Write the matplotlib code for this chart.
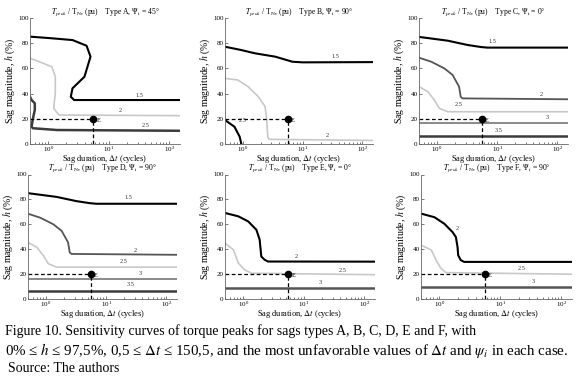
import matplotlib
matplotlib.use("Agg")
import matplotlib.pyplot as plt

plt.rcParams['font.family'] = ['Liberation Serif', 'DejaVu Serif']
plt.rcParams['mathtext.fontset'] = 'stix'

# --- Dados (duração t em ciclos, magnitude h em %) ---
t_min, t_max = 0.5, 150.5
e_t, e_h = 5.6, 20  # ponto E

# Tipo A
a15_t = [0.5, 1.08, 2.52, 4.3, 5.0, 3.97, 2.52, 2.36, 2.68, 150.5]
a15_h = [85.2, 84, 82.5, 78, 69.3, 53.4, 44.2, 37.5, 34.9, 34.9]
a2_t = [0.5, 0.6, 1.15, 1.31, 1.31, 1.23, 1.5, 150.5]
a2_h = [68, 66.7, 61.3, 53.4, 40.2, 28.3, 23, 22.5]
a25_t = [0.5, 0.53, 0.6, 0.6, 0.56, 0.53, 0.56, 1.4, 150.5]
a25_h = [37.5, 35, 32.3, 27, 20.4, 13.7, 12.5, 11.1, 10.5]

# Tipo B
b15_t = [0.5, 0.93, 1.58, 3.48, 6.7, 10, 150.5]
b15_h = [77.2, 74.6, 72, 69.3, 65.3, 64.8, 65]
b2_t = [0.5, 0.82, 1.22, 1.81, 2.35, 2.5, 2.6, 2.75, 150.5]
b2_h = [52.1, 50.8, 45.5, 37.5, 29.6, 19, 5.8, 3.7, 2.8]
b25_t = [0.5, 0.72, 0.88, 0.94]
b25_h = [19, 13.7, 5.8, 0]

# Tipo C (o tipo D dá as mesmas curvas)
c15_t = [0.5, 1.5, 3.2, 5.3, 6.8, 150.5]
c15_h = [85, 82, 78.6, 77, 76.5, 76.5]
c2_t = [0.5, 0.8, 1.32, 1.81, 2.32, 2.47, 2.64, 150.5]
c2_h = [68.5, 65.3, 60, 54.8, 45.5, 37.5, 36.2, 35.5]
c25_t = [0.5, 0.7, 0.9, 1.09, 1.5, 150.5]
c25_h = [45.5, 41.5, 34.9, 28.3, 25.6, 25.6]
c3_t = [0.5, 150.5]
c3_h = [16.4, 16.4]
c35_t = [0.5, 150.5]
c35_h = [6.5, 6.5]

# Tipo E
e2_t = [0.5, 0.83, 1.21, 1.65, 1.87, 1.94, 1.99, 2.26, 2.57, 150.5]
e2_h = [69.1, 66.4, 62.3, 55.6, 47.6, 39.5, 34.1, 31.5, 30.1, 30]
e25_t = [0.5, 0.69, 0.83, 1.06, 1.37, 150.5]
e25_h = [44.9, 39.5, 28.8, 23.4, 20.7, 19.5]
e3_t = [0.5, 150.5]
e3_h = [9.1, 9.1]

# Tipo F
f2_t = [0.5, 0.83, 1.21, 1.65, 1.87, 1.99, 2.04, 2.25, 2.55, 150.5]
f2_h = [68.6, 65.7, 60.4, 53.7, 49.7, 41.7, 35.1, 31.2, 29.8, 29.8]
f25_t = [0.5, 0.74, 0.88, 1.06, 1.28, 150.5]
f25_h = [43.3, 39.3, 31.4, 24.7, 21.2, 19.9]
f3_t = [0.5, 150.5]
f3_h = [9.3, 9.3]

BLACK, LIGHT, MID, DARK, DARKER = 'black', '#c8c8c8', '#808080', '#555555', '#3c3c3c'

# (t, h, cor, espessura, texto, t_texto, h_texto)
paineis = [
    ("A", "45", [30, 18, 180, 144], [
        (a15_t, a15_h, BLACK, 1.5, "1.5", 31.7, 36.7),
        (a2_t, a2_h, LIGHT, 1.2, "2", 15.5, 24.8),
        (a25_t, a25_h, DARKER, 1.8, "2.5", 41, 12.5)]),
    ("B", "90", [225, 18, 373, 144], [
        (b15_t, b15_h, BLACK, 1.5, "1.5", 35.5, 67.2),
        (b2_t, b2_h, LIGHT, 1.2, "2", 25.5, 4.5),
        (b25_t, b25_h, BLACK, 1.5, "2.5", 0.97, 16.9)]),
    ("C", "0", [419, 18, 568, 144], [
        (c15_t, c15_h, BLACK, 1.5, "1.5", 8.2, 79),
        (c2_t, c2_h, DARK, 1.3, "2", 54, 37.5),
        (c25_t, c25_h, LIGHT, 1.2, "2.5", 2.3, 29),
        (c3_t, c3_h, MID, 1.3, "3", 69, 19),
        (c35_t, c35_h, DARKER, 1.8, "3.5", 10.5, 9)]),
    ("D", "90", [28, 174.5, 177, 299], [
        (c15_t, c15_h, BLACK, 1.5, "1.5", 23.3, 79.8),
        (c2_t, c2_h, DARK, 1.3, "2", 30.5, 37.3),
        (c25_t, c25_h, LIGHT, 1.2, "2.5", 19.2, 28.2),
        (c3_t, c3_h, MID, 1.3, "3", 36.5, 18.5),
        (c35_t, c35_h, DARKER, 1.8, "3.5", 25.8, 9.4)]),
    ("E", "0", [225, 174.5, 375, 299], [
        (e2_t, e2_h, BLACK, 1.5, "2", 7.5, 32.3),
        (e25_t, e25_h, LIGHT, 1.2, "2.5", 43.5, 21.2),
        (e3_t, e3_h, DARK, 1.8, "3", 18.7, 11.3)]),
    ("F", "90", [421, 174.5, 572, 299], [
        (f2_t, f2_h, BLACK, 1.5, "2", 1.99, 54.5),
        (f25_t, f25_h, LIGHT, 1.2, "2.5", 22.7, 22.3),
        (f3_t, f3_h, DARK, 1.8, "3", 35, 12.2)]),
]

W, H = 580, 381
fig = plt.figure(figsize=(W / 100, H / 100), dpi=100)

for tipo, psi, (x0, y0, x1, y1), curvas in paineis:
    ax = fig.add_axes([x0 / W, 1 - y1 / H, (x1 - x0) / W, (y1 - y0) / H])
    for t, h, cor, lw, txt, tx, hy in curvas:
        ax.plot(t, h, color=cor, lw=lw, solid_joinstyle='round')
        ax.text(tx, hy, txt, fontsize=4.5, ha='center', va='bottom', color='#333333')
    # ponto E e linhas tracejadas
    ax.plot([t_min, e_t], [e_h, e_h], 'k--', lw=0.9, dashes=(3, 2))
    ax.plot([e_t, e_t], [0, e_h], 'k--', lw=0.9, dashes=(3, 2))
    ax.plot(e_t, e_h, 'ko', ms=4.5)
    ax.text(e_t * 1.13, e_h - 1.5, "E", fontsize=4.5, va='center')

    ax.set_xscale('log')
    ax.set_xlim(t_min, t_max)
    ax.set_ylim(0, 100)
    ax.set_yticks([0, 20, 40, 60, 80, 100])
    ax.set_xticks([1, 10, 100])
    ax.spines['top'].set_visible(False)
    ax.spines['right'].set_visible(False)
    for s in ['left', 'bottom']:
        ax.spines[s].set_linewidth(0.6)
        ax.spines[s].set_color('#666666')
    ax.tick_params(axis='both', which='both', direction='in', labelsize=5,
                   width=0.5, length=2, pad=1.0, colors='#444444', labelcolor='black')
    ax.tick_params(axis='x', which='both', pad=0.5)
    ax.tick_params(axis='x', which='minor', length=1.2)
    ax.set_title(r"$T_{peak}$ / T$_{\rm N}$, (pu)    Type " + tipo + r", $\Psi_{\rm i}$ = " + psi + "°",
                 fontsize=5.5, pad=-1.2)
    ax.set_xlabel(r"Sag duration, $\Delta t$ (cycles)", fontsize=6, labelpad=-0.8)
    ax.set_ylabel(r"Sag magnitude, $h$ (%)", fontsize=7, labelpad=1)

# --- Legenda da figura ---
fig.text(5 / W, 1 - 331 / H, "Figure 10. Sensitivity curves of torque peaks for sags types A, B, C, D, E and F, with",
         fontsize=10, va='center')
fig.text(5 / W, 1 - 350 / H,
         r"0% ≤ $h$ ≤ 97,5%, 0,5 ≤ $\mathit{Δt}$ ≤ 150,5, and the most unfavorable values of $\mathit{Δt}$ and $\psi_i$ in each case.",
         fontsize=10.8, va='center')
fig.text(8 / W, 1 - 369 / H, "Source: The authors", fontsize=10, va='center')

fig.savefig("out.png", dpi=100)
